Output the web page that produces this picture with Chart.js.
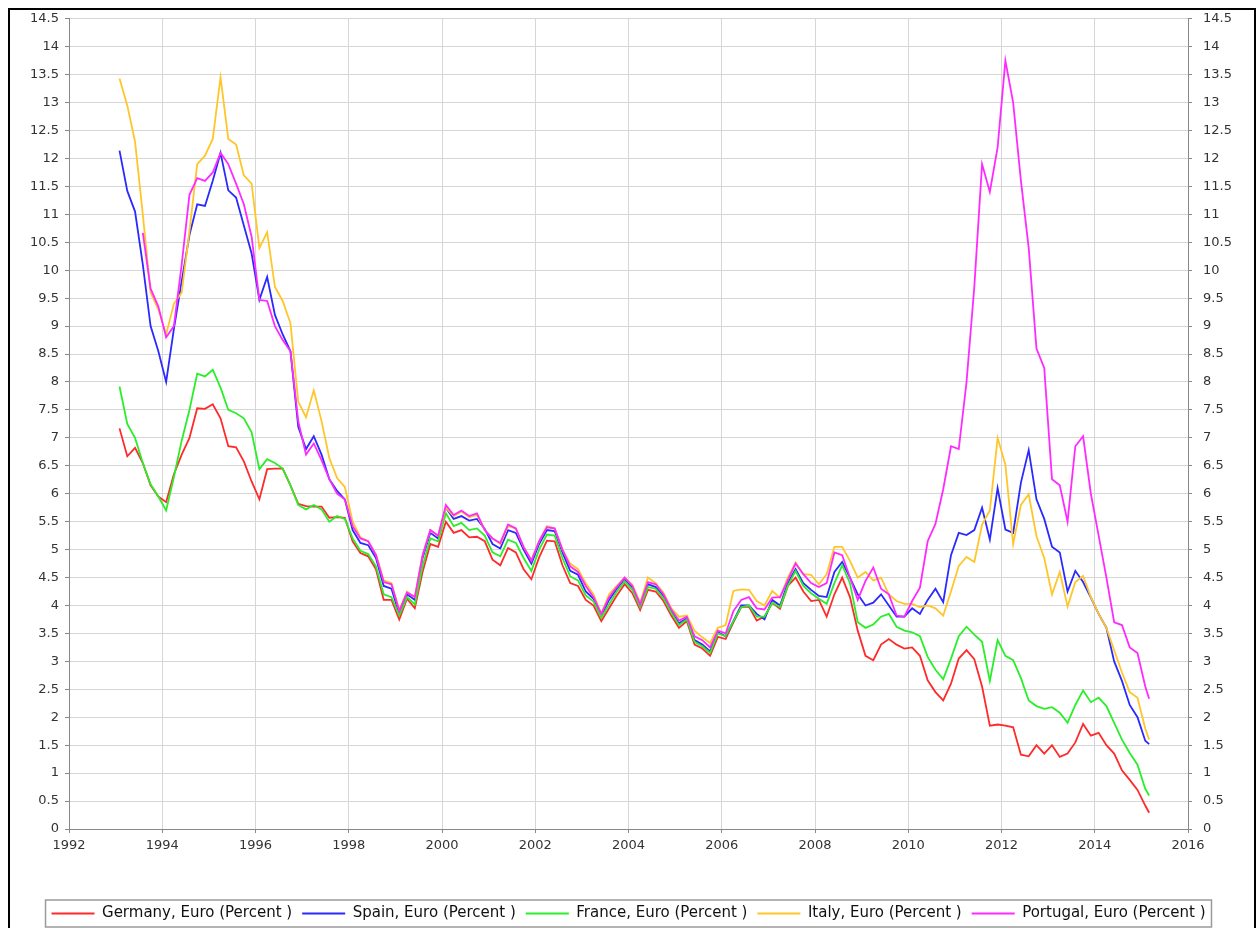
<!DOCTYPE html>
<html>
<head>
<meta charset="utf-8">
<title>Long-term interest rates, Euro (Percent)</title>
<script src="https://cdn.jsdelivr.net/npm/chart.js@4/dist/chart.umd.min.js"></script>
<style>
  html, body { margin: 0; padding: 0; background: #fff; }
  canvas { display: block; }
</style>
</head>
<body>
<canvas id="chart" width="1257" height="928"></canvas>
<script>
// bi-monthly samples, Jan 1993 .. Feb 2015 (one row per year)
const germany = [
  7.17, 6.67, 6.82, 6.55, 6.15, 5.95,
  5.85, 6.35, 6.7, 7.0, 7.53, 7.52,
  7.6, 7.35, 6.85, 6.83, 6.58, 6.22,
  5.9, 6.44, 6.45, 6.45, 6.15, 5.82,
  5.78, 5.77, 5.77, 5.57, 5.58, 5.57,
  5.15, 4.94, 4.88, 4.65, 4.1, 4.1,
  3.75, 4.12, 3.95, 4.6, 5.1, 5.05,
  5.5, 5.3, 5.35, 5.22, 5.23, 5.15,
  4.82, 4.72, 5.03, 4.95, 4.65, 4.47,
  4.86, 5.16, 5.15, 4.72, 4.4, 4.35,
  4.1, 4.0, 3.72, 3.95, 4.18, 4.38,
  4.22, 3.92, 4.28, 4.25, 4.08, 3.82,
  3.6, 3.72, 3.3, 3.23, 3.1, 3.44,
  3.4, 3.7, 3.97, 3.98, 3.73, 3.8,
  4.05, 3.94, 4.35, 4.5, 4.25, 4.08,
  4.1, 3.8, 4.2, 4.5, 4.15, 3.55,
  3.1, 3.02, 3.3, 3.4, 3.3, 3.23,
  3.25, 3.1, 2.66, 2.45, 2.3, 2.6,
  3.05, 3.2, 3.04, 2.55, 1.85, 1.87,
  1.85, 1.82, 1.33, 1.3, 1.5, 1.35,
  1.5, 1.29, 1.35, 1.55, 1.88, 1.67,
  1.72, 1.5, 1.35, 1.05, 0.88, 0.7,
  0.42, 0.29
];
const spain = [
  12.14, 11.42, 11.05, 10.1, 9.0, 8.55,
  8.0, 8.95, 9.8, 10.63, 11.18, 11.15,
  11.6, 12.1, 11.43, 11.3, 10.8, 10.3,
  9.47, 9.88, 9.2, 8.85, 8.55, 7.2,
  6.8, 7.03, 6.7, 6.26, 6.05, 5.9,
  5.35, 5.12, 5.08, 4.85, 4.35, 4.3,
  3.85, 4.2, 4.1, 4.85, 5.3, 5.2,
  5.75, 5.55, 5.6, 5.52, 5.55, 5.37,
  5.1, 5.02, 5.35, 5.3, 5.0, 4.75,
  5.1, 5.35, 5.33, 4.95, 4.62, 4.55,
  4.25, 4.12, 3.82, 4.1, 4.3, 4.47,
  4.32, 4.0, 4.38, 4.33, 4.17, 3.9,
  3.68, 3.77, 3.38, 3.3, 3.18, 3.52,
  3.45, 3.72, 4.0, 4.0, 3.85, 3.75,
  4.1, 4.0, 4.4, 4.65, 4.4, 4.28,
  4.17, 4.15, 4.6, 4.78, 4.5, 4.2,
  4.0, 4.05, 4.2, 4.0, 3.8, 3.8,
  3.95, 3.85, 4.1, 4.3, 4.06, 4.9,
  5.3, 5.26, 5.35, 5.75, 5.18, 6.1,
  5.36, 5.3, 6.2, 6.78, 5.9, 5.55,
  5.05, 4.95, 4.25, 4.62, 4.42, 4.14,
  3.85, 3.6, 3.0, 2.65, 2.22, 2.0,
  1.58, 1.52
];
const france = [
  7.92, 7.25, 7.0, 6.55, 6.17, 5.95,
  5.7, 6.3, 6.95, 7.5, 8.15, 8.1,
  8.22, 7.9, 7.5, 7.44, 7.35, 7.1,
  6.44, 6.62, 6.55, 6.45, 6.15, 5.8,
  5.72, 5.8, 5.72, 5.5, 5.6, 5.55,
  5.2, 4.98, 4.92, 4.7, 4.2, 4.15,
  3.82, 4.15, 4.02, 4.7, 5.2, 5.15,
  5.65, 5.42, 5.48, 5.35, 5.38, 5.25,
  4.95, 4.88, 5.18, 5.12, 4.85, 4.62,
  5.0, 5.27, 5.25, 4.85, 4.52, 4.45,
  4.18, 4.07, 3.78, 4.02, 4.25, 4.43,
  4.28, 3.97, 4.33, 4.3, 4.13, 3.87,
  3.65, 3.75, 3.35, 3.27, 3.15, 3.5,
  3.45, 3.72, 3.97, 4.0, 3.8, 3.8,
  4.05, 3.97, 4.35, 4.62, 4.35, 4.22,
  4.12, 4.03, 4.4, 4.72, 4.4, 3.7,
  3.6, 3.66, 3.8, 3.85, 3.62, 3.55,
  3.52, 3.45, 3.08, 2.85, 2.68, 3.05,
  3.45, 3.62, 3.48, 3.35, 2.65, 3.38,
  3.1, 3.02, 2.7, 2.3, 2.2, 2.15,
  2.18, 2.08, 1.9, 2.22, 2.48, 2.27,
  2.35, 2.2, 1.9, 1.6, 1.36, 1.15,
  0.72, 0.6
];
const italy = [
  13.43, 12.95, 12.3, 11.0, 9.6, 9.3,
  8.85, 9.4, 9.6, 10.7, 11.9, 12.05,
  12.35, 13.45, 12.35, 12.25, 11.7, 11.55,
  10.4, 10.68, 9.7, 9.45, 9.05, 7.65,
  7.37, 7.85, 7.3, 6.64, 6.28, 6.12,
  5.5, 5.22, 5.15, 4.92, 4.45, 4.4,
  3.92, 4.25, 4.15, 4.9, 5.35, 5.25,
  5.75, 5.6, 5.68, 5.58, 5.62, 5.35,
  5.2, 5.1, 5.42, 5.38, 5.05, 4.82,
  5.15, 5.42, 5.38, 5.0, 4.75, 4.65,
  4.4, 4.2, 3.85, 4.2, 4.35, 4.5,
  4.37, 4.05, 4.5, 4.4, 4.23, 3.95,
  3.8, 3.82, 3.55, 3.43, 3.33, 3.6,
  3.65, 4.26, 4.29, 4.28, 4.08, 4.0,
  4.26, 4.14, 4.5, 4.77, 4.56, 4.55,
  4.38, 4.56, 5.05, 5.05, 4.8, 4.5,
  4.6, 4.45, 4.5, 4.2, 4.08, 4.03,
  4.03, 3.97, 4.0, 3.95, 3.82, 4.25,
  4.71, 4.87, 4.78, 5.45, 5.7, 7.0,
  6.52, 5.1, 5.8, 5.99, 5.24, 4.85,
  4.2, 4.6, 3.98, 4.42, 4.53, 4.15,
  3.85, 3.6, 3.2, 2.8, 2.45, 2.35,
  1.8, 1.6
];
const portugal = [
  null, null, null, 10.67, 9.67, 9.35,
  8.8, 9.0, 10.1, 11.35, 11.65, 11.6,
  11.75, 12.1, 11.9, 11.55, 11.18, 10.6,
  9.47, 9.45, 9.0, 8.75, 8.55, 7.3,
  6.7, 6.9, 6.6, 6.26, 6.0, 5.9,
  5.42, 5.2, 5.15, 4.9, 4.42, 4.38,
  3.9, 4.23, 4.15, 4.9, 5.35, 5.25,
  5.8, 5.62, 5.7, 5.6, 5.65, 5.35,
  5.2, 5.12, 5.45, 5.38, 5.05, 4.8,
  5.15, 5.4, 5.38, 5.0, 4.7, 4.6,
  4.35, 4.15, 3.85, 4.15, 4.33, 4.5,
  4.35, 4.02, 4.42, 4.38, 4.2, 3.93,
  3.73, 3.8, 3.45, 3.38, 3.25, 3.55,
  3.5, 3.9, 4.1, 4.15, 3.95, 3.93,
  4.14, 4.15, 4.45, 4.75, 4.56, 4.4,
  4.33, 4.4, 4.95, 4.9, 4.5, 4.1,
  4.44, 4.68, 4.3, 4.2, 3.82, 3.8,
  4.08, 4.32, 5.15, 5.46, 6.08, 6.85,
  6.8, 8.0, 9.7, 11.9, 11.4, 12.2,
  13.75, 13.0, 11.6, 10.4, 8.6, 8.25,
  6.26, 6.15, 5.5, 6.85, 7.03, 6.0,
  5.25, 4.5, 3.7, 3.65, 3.25, 3.15,
  2.55, 2.33
];

// sample dates as fractional years (Jan, Mar, May, ... of each year)
const dates = [];
for (let k = 0; k <= 132; k++) dates.push(1993 + (1 + 2 * k) / 12);
dates.push(2015 + 2 / 12);

const seriesNames = [
  'Germany, Euro (Percent )',
  'Spain, Euro (Percent )',
  'France, Euro (Percent )',
  'Italy, Euro (Percent )',
  'Portugal, Euro (Percent )'
];
const seriesColors = ['#ff2a2a', '#2a2aff', '#2aee2a', '#ffc62a', '#ff2aff'];
const seriesValues = [germany, spain, france, italy, portugal];

const tickFont = { family: 'DejaVu Sans', size: 13 };
const fmt = v => String(v);

const toPoints = vals => vals.map((v, i) => ({ x: dates[i], y: v }));

const framePlugin = {
  id: 'frame',
  beforeDraw(chart) {
    const ctx = chart.ctx;
    ctx.save();
    ctx.fillStyle = '#fff';
    ctx.fillRect(0, 0, chart.width, chart.height);
    ctx.strokeStyle = '#000';
    ctx.lineWidth = 2;
    ctx.strokeRect(9, 9, chart.width - 11, chart.height + 20);
    ctx.restore();
  },
  afterDraw(chart) {
    const boxes = chart.legend && chart.legend.legendHitBoxes;
    if (!boxes || !boxes.length) return;
    let l = Infinity, r = -Infinity, t = Infinity, b = -Infinity;
    boxes.forEach(h => {
      l = Math.min(l, h.left); r = Math.max(r, h.left + h.width);
      t = Math.min(t, h.top); b = Math.max(b, h.top + h.height);
    });
    const ctx = chart.ctx;
    ctx.save();
    ctx.strokeStyle = '#9a9a9a';
    ctx.lineWidth = 1.5;
    ctx.strokeRect(l - 6, t - 6, r - l + 12, b - t + 12);
    ctx.restore();
  }
};

new Chart(document.getElementById('chart'), {
  type: 'line',
  data: {
    datasets: seriesNames.map((name, i) => ({
      label: name,
      data: toPoints(seriesValues[i]),
      borderColor: seriesColors[i],
      backgroundColor: seriesColors[i],
      borderWidth: 1.8,
      pointRadius: 0,
      pointStyle: 'line',
      tension: 0,
      spanGaps: false,
      order: seriesNames.length - i
    }))
  },
  options: {
    responsive: false,
    animation: false,
    layout: { padding: { top: 14, left: 0, right: 0, bottom: -3 } },
    plugins: {
      tooltip: { enabled: false },
      legend: {
        position: 'bottom',
        labels: {
          usePointStyle: true,
          pointStyle: 'line',
          pointStyleWidth: 43,
          padding: 10,
          color: '#111',
          font: { family: 'DejaVu Sans', size: 15 },
          sort: (a, b) => a.datasetIndex - b.datasetIndex
        }
      }
    },
    scales: {
      x: {
        type: 'linear',
        min: 1992,
        max: 2016,
        ticks: { stepSize: 2, callback: fmt, color: '#333', font: tickFont, maxRotation: 0, autoSkip: false, padding: 5 },
        grid: { color: '#d6d6d6', tickColor: '#888', tickLength: 4 },
        border: { color: '#888' },
        afterFit: s => { s.height = 67; }
      },
      y: {
        position: 'left',
        min: 0,
        max: 14.5,
        ticks: { stepSize: 0.5, callback: fmt, color: '#333', font: tickFont, padding: 6 },
        grid: { color: '#d6d6d6', tickColor: '#888', tickLength: 4 },
        border: { color: '#888' },
        afterFit: s => { s.width = 69; }
      },
      y2: {
        position: 'right',
        min: 0,
        max: 14.5,
        ticks: { stepSize: 0.5, callback: fmt, color: '#333', font: tickFont, padding: 11 },
        grid: { drawOnChartArea: false, tickColor: '#888', tickLength: 4 },
        border: { color: '#888' },
        afterFit: s => { s.width = 69; }
      }
    }
  },
  plugins: [framePlugin]
});
</script>
</body>
</html>
